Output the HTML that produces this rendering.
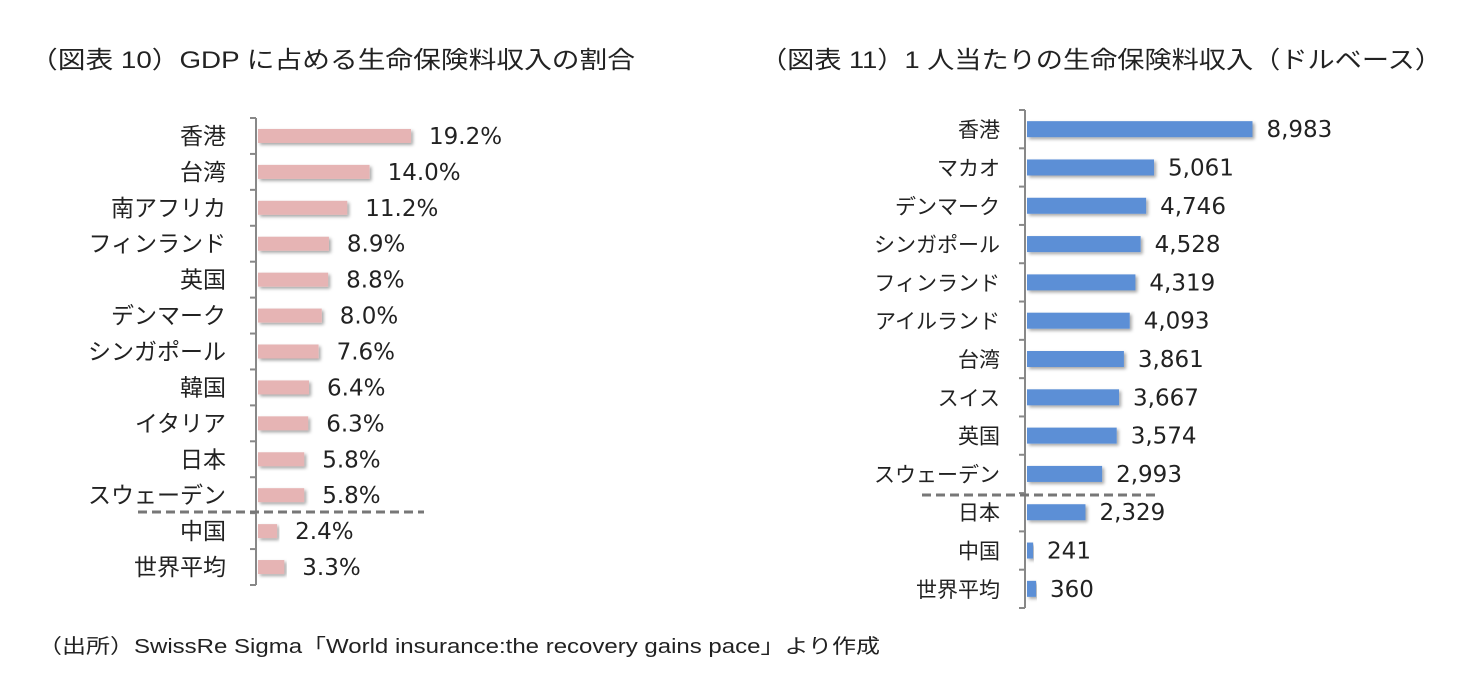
<!DOCTYPE html>
<html><head><meta charset="utf-8">
<style>
body{margin:0;background:#fff;width:1476px;height:692px;overflow:hidden;font-family:"Liberation Sans","Noto Sans CJK JP",sans-serif;}
svg{position:absolute;left:0;top:0}
.t{font-size:24px;fill:#222}
.v{fill:#222;font-family:"DejaVu Sans","Noto Sans CJK JP",sans-serif}
text{fill:#222}
</style></head><body>
<svg id="s" width="1476" height="692">
<defs><filter id="sh" x="-5%" y="-20%" width="115%" height="160%"><feDropShadow dx="2" dy="2" stdDeviation="1.5" flood-color="#000" flood-opacity="0.35"/></filter></defs>
<text class="t" x="30" y="68" textLength="605" lengthAdjust="spacingAndGlyphs">（図表 10）GDP に占める生命保険料収入の割合</text>
<text class="t" x="760" y="68" textLength="682" lengthAdjust="spacingAndGlyphs">（図表 11）1 人当たりの生命保険料収入（ドルベース）</text>
<text x="38" y="653" style="font-size:20px" textLength="842" lengthAdjust="spacingAndGlyphs">（出所）SwissRe Sigma「World insurance:the recovery gains pace」より作成</text>
</svg>
<script>
const leftCats=["香港","台湾","南アフリカ","フィンランド","英国","デンマーク","シンガポール","韓国","イタリア","日本","スウェーデン","中国","世界平均"];
const leftVals=[19.2,14.0,11.2,8.9,8.8,8.0,7.6,6.4,6.3,5.8,5.8,2.4,3.3];
const leftLabels=["19.2%","14.0%","11.2%","8.9%","8.8%","8.0%","7.6%","6.4%","6.3%","5.8%","5.8%","2.4%","3.3%"];
const rightCats=["香港","マカオ","デンマーク","シンガポール","フィンランド","アイルランド","台湾","スイス","英国","スウェーデン","日本","中国","世界平均"];
const rightVals=[8983,5061,4746,4528,4319,4093,3861,3667,3574,2993,2329,241,360];
const rightLabels=["8,983","5,061","4,746","4,528","4,319","4,093","3,861","3,667","3,574","2,993","2,329","241","360"];
const NS="http://www.w3.org/2000/svg";
const svg=document.getElementById('s');
function mk(tag,attrs,parent){const e=document.createElementNS(NS,tag);for(const k in attrs)e.setAttribute(k,attrs[k]);(parent||svg).appendChild(e);return e;}
function chart(o){
  const g=mk('g',{});
  
  
  const n=o.cats.length, step=(o.bottom-o.top)/n;
  const y=i=>o.top+step*(i+0.5);
  const x=v=>o.ax+2+v*o.scale;
  const axis=mk('line',{x1:o.ax,x2:o.ax,y1:o.top,y2:o.bottom,stroke:'#888','stroke-width':2},g);
  
  
  for(let i=0;i<=n;i++){const yy=o.top+step*i;mk('line',{x1:o.ax-6,x2:o.ax,y1:yy,y2:yy,stroke:'#888','stroke-width':2},g);}
  o.cats.forEach((c,i)=>{
    const r=mk('rect',{x:o.ax+2,y:y(i)-o.bh/2,width:x(o.vals[i])-o.ax-2,height:o.bh,fill:o.color,filter:'url(#sh)'},g);
    
    
    const t=mk('text',{x:o.lx,y:y(i)+8,'text-anchor':'end','font-size':o.cf},g);t.textContent=c;
    
    
    const v=mk('text',{x:x(o.vals[i])+o.off,y:y(i)+8,class:'v','font-size':23},g);v.textContent=o.labels[i];
    
    
  });
  const d=mk('line',{x1:o.dx1,x2:o.dx2,y1:o.dy,y2:o.dy,stroke:'#777','stroke-width':3,'stroke-dasharray':'9,5'},g);
  
  
}
chart({name:'left-bar-chart',cats:leftCats,vals:leftVals,labels:leftLabels,ax:256,top:118,bottom:585,scale:7.97,bh:14,color:'#e6b4b4',off:18,lx:226,cf:23,dx1:138,dx2:424,dy:512});
chart({name:'right-bar-chart',cats:rightCats,vals:rightVals,labels:rightLabels,ax:1025,top:110,bottom:608,scale:0.0251,bh:16,color:'#5b8fd6',off:14,lx:1000,cf:21,dx1:922,dx2:1158,dy:495});
</script>
</body></html>
